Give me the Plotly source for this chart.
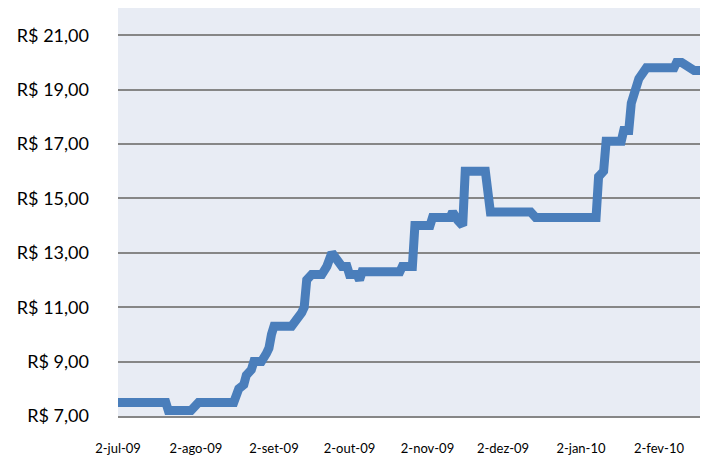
import plotly.graph_objects as go

dates = [
    "2009-07-02", "2009-07-21", "2009-07-22", "2009-07-31", "2009-08-03", "2009-08-17",
    "2009-08-19", "2009-08-21", "2009-08-22", "2009-08-24", "2009-08-25", "2009-08-28",
    "2009-08-30", "2009-08-31", "2009-09-01", "2009-09-02", "2009-09-09", "2009-09-11",
    "2009-09-13", "2009-09-14", "2009-09-15", "2009-09-17", "2009-09-21", "2009-09-23",
    "2009-09-25", "2009-09-29", "2009-10-01", "2009-10-02", "2009-10-05", "2009-10-06",
    "2009-10-07", "2009-10-22", "2009-10-23", "2009-10-27", "2009-10-28", "2009-11-03",
    "2009-11-04", "2009-11-11", "2009-11-12", "2009-11-14", "2009-11-16", "2009-11-17",
    "2009-11-25", "2009-11-27", "2009-12-13", "2009-12-15", "2010-01-08", "2010-01-09",
    "2010-01-11", "2010-01-12", "2010-01-18", "2010-01-19", "2010-01-21", "2010-01-22",
    "2010-01-24", "2010-01-25", "2010-01-28", "2010-02-08", "2010-02-09", "2010-02-11",
    "2010-02-16", "2010-02-19",
]
prices = [
    7.5, 7.5, 7.2, 7.2, 7.5, 7.5,
    8.0, 8.15, 8.5, 8.7, 9.0, 9.0,
    9.3, 9.5, 10.0, 10.3, 10.3, 10.5,
    10.8, 11.0, 12.0, 12.2, 12.2, 12.5,
    13.0, 12.5, 12.5, 12.2, 12.2, 12.0,
    12.3, 12.3, 12.5, 12.5, 14.0, 14.0,
    14.3, 14.3, 14.5, 14.2, 14.0, 16.0,
    16.0, 14.5, 14.5, 14.3, 14.3, 15.8,
    16.0, 17.1, 17.1, 17.5, 17.5, 18.5,
    19.0, 19.4, 19.8, 19.8, 20.0, 20.0,
    19.7, 19.7,
]

x_tick_vals = ["2009-07-02", "2009-08-02", "2009-09-02", "2009-10-02",
               "2009-11-02", "2009-12-02", "2010-01-02", "2010-02-02"]
x_tick_text = ["2-jul-09", "2-ago-09", "2-set-09", "2-out-09",
               "2-nov-09", "2-dez-09", "2-jan-10", "2-fev-10"]
y_tick_vals = [7, 9, 11, 13, 15, 17, 19, 21]
y_tick_text = ["R$ 7,00", "R$ 9,00", "R$ 11,00", "R$ 13,00",
               "R$ 15,00", "R$ 17,00", "R$ 19,00", "R$ 21,00"]

fig = go.Figure()
fig.add_trace(go.Scatter(
    x=dates, y=prices, mode="lines",
    line=dict(color="#4A7EBB", width=9),
    hoverinfo="x+y", showlegend=False,
))

# the page body adds an 8px offset, so the figure is sized/margined to compensate
fig.update_layout(
    width=700, height=447,
    margin=dict(l=110, r=5, t=0, b=39, autoexpand=False),
    paper_bgcolor="white",
    plot_bgcolor="#E8ECF4",
    font=dict(family="Lato, Open Sans, sans-serif", color="#000000"),
    xaxis=dict(
        type="date",
        range=["2009-07-02", "2010-02-19 12:00"],
        tickvals=x_tick_vals, ticktext=x_tick_text,
        tickfont=dict(size=13),
        showgrid=False, zeroline=False,
        showline=True, linecolor="#868686", linewidth=2,
        ticks="", ticklabelstandoff=19, automargin=False,
    ),
    yaxis=dict(
        range=[7, 22],
        tickvals=y_tick_vals, ticktext=y_tick_text,
        tickfont=dict(size=18),
        showgrid=True, gridcolor="#868686", gridwidth=2,
        zeroline=False, showline=False,
        ticks="", ticklabelstandoff=28, automargin=False,
    ),
)

fig.write_html("out.html")
